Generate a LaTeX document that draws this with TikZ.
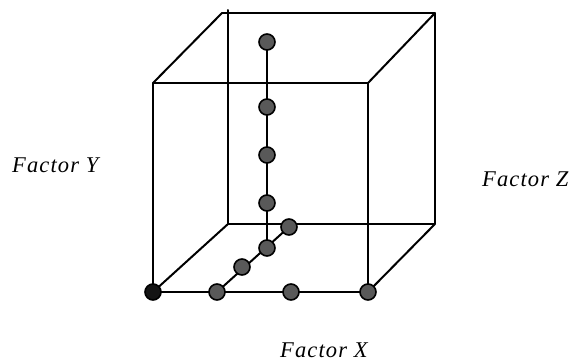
\documentclass[tikz,border=0pt]{standalone}
\usepackage{fontspec}
\setmainfont{Liberation Serif}
\begin{document}
\begin{tikzpicture}[x=1pt,y=-1pt,
  edge/.style={line width=2pt, line cap=round, line join=round},
  dot/.style={circle, draw=black, line width=1.6pt, fill=black!65, minimum size=16pt, inner sep=0pt},
  darkdot/.style={dot, fill=black!92},
  lab/.style={font=\itshape\fontsize{22.5}{26}\selectfont\addfontfeatures{LetterSpace=5}, anchor=base west, inner sep=0pt}]
\useasboundingbox (0,0) rectangle (576,362);
% cube corners
\coordinate (f1) at (153,292); \coordinate (f2) at (368,292);
\coordinate (f3) at (368,83);  \coordinate (f4) at (153,83);
\coordinate (b1) at (228,224); \coordinate (b2) at (435,224);
\coordinate (b3) at (435,13);  \coordinate (b4) at (222,13);
\coordinate (b4v) at (228,10);
% back edges
\draw[edge] (b4v) -- (b1) -- (b2) -- (b3) -- (b4);
\draw[edge] (f1) -- (b1);
\draw[edge] (f2) -- (b2);
\draw[edge] (f3) -- (b3);
\draw[edge] (f4) -- (b4);
% front face
\draw[edge] (f1) -- (f2) -- (f3) -- (f4) -- cycle;
% design points
\coordinate (d1) at (217,292); \coordinate (d2) at (242,267);
\coordinate (d3) at (267,248); \coordinate (d4) at (289,227);
\coordinate (p1) at (267,42);
\draw[edge] (d1) -- (d4);
\draw[edge] (p1) -- (d3);
\node[darkdot] (n0) at (f1) {};
\node[dot] (n1) at (d1) {};
\node[dot] (n2) at (291,292) {};
\node[dot] (n3) at (f2) {};
\node[dot] (n4) at (d2) {};
\node[dot] (n5) at (d3) {};
\node[dot] (n6) at (d4) {};
\node[dot] (n7) at (267,203) {};
\node[dot] (n8) at (267,155) {};
\node[dot] (n9) at (267,107) {};
\node[dot] (n10) at (p1) {};
% labels
\node[lab] (ly) at (12,172) {Factor Y};
\node[lab] (lz) at (482,186) {Factor Z};
\node[lab] (lx) at (280,357) {Factor X};
\end{tikzpicture}
\end{document}
